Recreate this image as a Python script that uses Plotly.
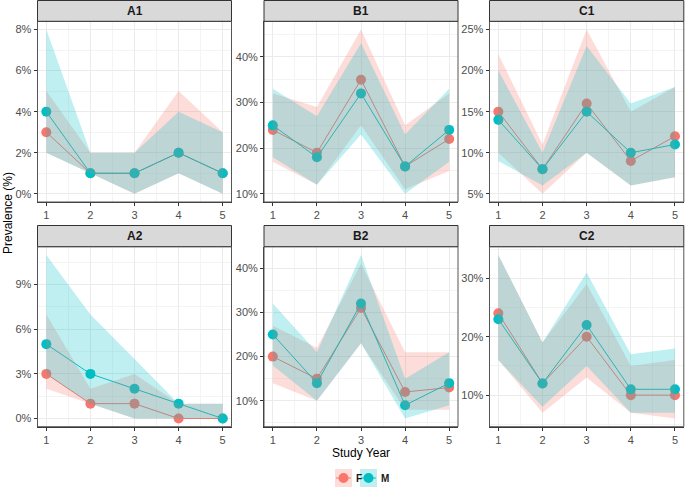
import plotly.graph_objects as go

W, H = 685, 488

YEARS = [1, 2, 3, 4, 5]

# prevalence (%) by sex, with lower / upper interval
A1_F = [3, 1, 1, 2, 1]
A1_F_LO = [2, 1, 0, 1, 0]
A1_F_HI = [5, 2, 2, 5, 3]
A1_M = [4, 1, 1, 2, 1]
A1_M_LO = [2, 1, 0, 1, 0]
A1_M_HI = [8, 2, 2, 4, 3]

B1_F = [24, 19, 35, 16, 22]
B1_F_LO = [17, 12, 25, 11, 15]
B1_F_HI = [32, 29, 46, 25, 32]
B1_M = [25, 18, 32, 16, 24]
B1_M_LO = [18, 12, 23, 10, 17]
B1_M_HI = [33, 27, 43, 23, 33]

C1_F = [15, 8, 16, 9, 12]
C1_F_LO = [10, 5, 10, 6, 7]
C1_F_HI = [22, 11, 25, 15, 18]
C1_M = [14, 8, 15, 10, 11]
C1_M_LO = [9, 6, 10, 6, 7]
C1_M_HI = [20, 10, 23, 16, 18]

A2_F = [3, 1, 1, 0, 0]
A2_F_LO = [2, 1, 0, 0, 0]
A2_F_HI = [7, 2, 3, 1, 1]
A2_M = [5, 3, 2, 1, 0]
A2_M_LO = [3, 1, 0, 0, 0]
A2_M_HI = [11, 7, 4, 1, 1]

B2_F = [20, 15, 31, 12, 13]
B2_F_LO = [14, 10, 23, 8, 8]
B2_F_HI = [27, 22, 41, 21, 21]
B2_M = [25, 14, 32, 9, 14]
B2_M_LO = [18, 10, 23, 6, 9]
B2_M_HI = [32, 21, 43, 15, 21]

C2_F = [24, 12, 20, 10, 10]
C2_F_LO = [16, 7, 13, 7, 6]
C2_F_HI = [34, 19, 29, 15, 16]
C2_M = [23, 12, 22, 11, 11]
C2_M_LO = [16, 8, 15, 7, 7]
C2_M_HI = [34, 19, 31, 17, 18]

Y_DTICK = {"A1": 2, "B1": 10, "C1": 5, "A2": 3, "B2": 10, "C2": 10}

panels = [
    ("A1", A1_F, A1_F_LO, A1_F_HI, A1_M, A1_M_LO, A1_M_HI),
    ("B1", B1_F, B1_F_LO, B1_F_HI, B1_M, B1_M_LO, B1_M_HI),
    ("C1", C1_F, C1_F_LO, C1_F_HI, C1_M, C1_M_LO, C1_M_HI),
    ("A2", A2_F, A2_F_LO, A2_F_HI, A2_M, A2_M_LO, A2_M_HI),
    ("B2", B2_F, B2_F_LO, B2_F_HI, B2_M, B2_M_LO, B2_M_HI),
    ("C2", C2_F, C2_F_LO, C2_F_HI, C2_M, C2_M_LO, C2_M_HI),
]

F_COL = "#F8766D"
M_COL = "#00BFC4"
F_FILL = "rgba(248,118,109,0.25)"
M_FILL = "rgba(0,191,196,0.25)"

# panel boxes in pixels
cols_px = [(37.5, 231.5), (264, 458), (489.5, 683.8)]
rows_px = [((0.5, 21.3), (21.3, 202)), ((225.5, 246.7), (246.7, 426.7))]


def px(x):
    return x / W


def py(y):
    return 1 - y / H


FONT = "Liberation Sans, Arial, sans-serif"

fig = go.Figure()
shapes = []
annotations = []
layout = {}

for i, (name, f, f_lo, f_hi, m, m_lo, m_hi) in enumerate(panels):
    r, c = divmod(i, 3)
    n = i + 1
    xa = "x" if n == 1 else f"x{n}"
    ya = "y" if n == 1 else f"y{n}"
    x0, x1 = cols_px[c]
    (s0, s1), (p0, p1) = rows_px[r]

    # lines + points first, ribbons drawn over them (as in the original)
    for vals, col in [(f, F_COL), (m, M_COL)]:
        fig.add_trace(go.Scatter(
            x=YEARS, y=vals, mode="lines+markers",
            line=dict(color=col, width=1),
            marker=dict(color=col, size=10),
            xaxis=xa, yaxis=ya, showlegend=False, hoverinfo="skip"
        ))
    for lo, hi, fill in [(f_lo, f_hi, F_FILL), (m_lo, m_hi, M_FILL)]:
        fig.add_trace(go.Scatter(
            x=YEARS + YEARS[::-1], y=hi + lo[::-1],
            fill="toself", fillcolor=fill, mode="lines",
            line=dict(width=0), xaxis=xa, yaxis=ya,
            showlegend=False, hoverinfo="skip"
        ))

    ymin = min(f_lo + m_lo)
    ymax = max(f_hi + m_hi)
    pad = (ymax - ymin) * 0.05
    dt = Y_DTICK[name]

    common = dict(
        showgrid=True, gridcolor="#EBEBEB", gridwidth=1,
        zeroline=False, showline=True, linecolor="#333333", linewidth=1,
        ticks="outside", ticklen=3, tickcolor="#333333",
        tickfont=dict(family=FONT, size=11, color="#4D4D4D"),
        automargin=False, fixedrange=True,
    )
    layout["xaxis" if n == 1 else f"xaxis{n}"] = dict(
        common, domain=[px(x0), px(x1)], anchor=ya,
        range=[0.8, 5.2], tick0=1, dtick=1,
        minor=dict(dtick=0.5, tick0=0.5, showgrid=True, gridcolor="#F4F4F4", gridwidth=0.5, ticks=""),
    )
    layout["yaxis" if n == 1 else f"yaxis{n}"] = dict(
        common, domain=[py(p1), py(p0)], anchor=xa,
        range=[ymin - pad, ymax + pad], tick0=0, dtick=dt, ticksuffix="%",
        minor=dict(dtick=dt / 2, tick0=0, showgrid=True, gridcolor="#F4F4F4", gridwidth=0.5, ticks=""),
    )

    # panel border
    shapes.append(dict(type="rect", xref="paper", yref="paper",
                       x0=px(x0), x1=px(x1), y0=py(p1), y1=py(p0),
                       line=dict(color="#555555", width=1), fillcolor="rgba(0,0,0,0)", layer="above"))
    # strip
    shapes.append(dict(type="rect", xref="paper", yref="paper",
                       x0=px(x0), x1=px(x1), y0=py(s1), y1=py(s0),
                       line=dict(color="#333333", width=1), fillcolor="#D9D9D9", layer="above"))
    annotations.append(dict(text=f"<b>{name}</b>", xref="paper", yref="paper",
                            x=px((x0 + x1) / 2), y=py((s0 + s1) / 2), showarrow=False,
                            xanchor="center", yanchor="middle",
                            font=dict(family=FONT, size=12, color="#1A1A1A")))

# axis titles
annotations.append(dict(text="Study Year", xref="paper", yref="paper", x=px(360.6), y=py(453),
                        showarrow=False, xanchor="center", yanchor="middle",
                        font=dict(family=FONT, size=12, color="#000000")))
annotations.append(dict(text="Prevalence (%)", xref="paper", yref="paper", x=px(8), y=py(213),
                        showarrow=False, textangle=-90, xanchor="center", yanchor="middle",
                        font=dict(family=FONT, size=12, color="#000000")))

# legend keys drawn by hand (ribbon box + line + point)
for bx, label, col, fill in [(335, "F", F_COL, F_FILL), (360, "M", M_COL, M_FILL)]:
    cx = bx + 8.5
    shapes.append(dict(type="line", xref="paper", yref="paper",
                       x0=px(bx + 1), x1=px(bx + 16), y0=py(478), y1=py(478),
                       line=dict(color=col, width=1)))
    shapes.append(dict(type="circle", xref="paper", yref="paper",
                       x0=px(cx - 5), x1=px(cx + 5), y0=py(483), y1=py(473),
                       fillcolor=col, line=dict(width=0)))
    shapes.append(dict(type="rect", xref="paper", yref="paper",
                       x0=px(bx), x1=px(bx + 17), y0=py(487), y1=py(469),
                       fillcolor=fill, line=dict(width=0)))
    annotations.append(dict(text=f"<b>{label}</b>", xref="paper", yref="paper",
                            x=px(bx + 18.5), y=py(478), showarrow=False,
                            xanchor="left", yanchor="middle",
                            font=dict(family=FONT, size=10, color="#1A1A1A")))

fig.update_layout(
    width=W, height=H,
    margin=dict(l=0, r=0, t=0, b=0),
    plot_bgcolor="white", paper_bgcolor="white",
    shapes=shapes, annotations=annotations,
    showlegend=False,
    **layout
)

# page body has a default 8px margin; drop it so the figure fills the window
fig.write_html("out.html", config={"displayModeBar": False},
               post_script="document.body.style.margin='0';")
